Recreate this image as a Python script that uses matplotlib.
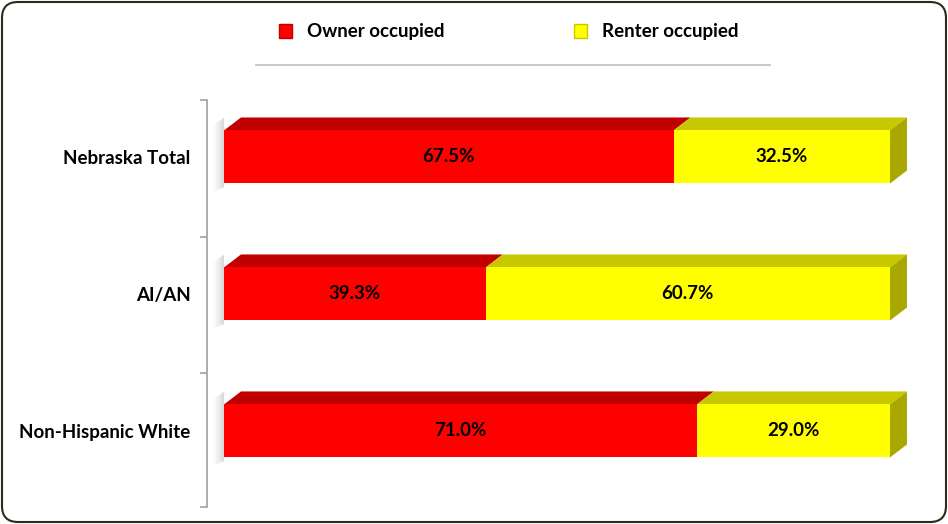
"""Housing tenure by race, Nebraska - stacked 3D-style bar chart."""
import matplotlib.pyplot as plt
from matplotlib.patches import Polygon, Patch, FancyBboxPatch
from matplotlib.lines import Line2D

categories = ["Nebraska Total", "AI/AN", "Non-Hispanic White"]
owner = [67.5, 39.3, 71.0]
renter = [32.5, 60.7, 29.0]
series_names = ["Owner occupied", "Renter occupied"]

front_cols = ["#FF0000", "#FFFF00"]
top_cols = ["#C00000", "#C8C800"]
side_cols = ["#A00000", "#A8A800"]

plt.rcParams["font.family"] = ["Lato", "DejaVu Sans"]
plt.rcParams["font.weight"] = "bold"

fig = plt.figure(figsize=(9.48, 5.24), dpi=100)
W, H = 948, 524
ax = fig.add_axes([224 / W, 1 - 507 / H, 666 / W, 407 / H])

# spine position first: set_position resets the ticks
for s in ["top", "right", "bottom"]:
    ax.spines[s].set_visible(False)
ax.spines["left"].set_position(("outward", 12.2))
ax.spines["left"].set_color("#A0A0A0")
ax.spines["left"].set_linewidth(1.2)
ax.patch.set_alpha(0)

bar_h = 0.387
dx, dy = 2.55, 0.095  # depth of the fake 3D faces in data units
ypos = list(range(len(categories)))

for i, y in enumerate(ypos):
    top = y - bar_h / 2
    bot = y + bar_h / 2
    # soft shadow on the left
    for k, a in enumerate([0.05, 0.04, 0.03, 0.02]):
        off = 0.4 + k * 0.4
        ax.add_patch(Polygon([(-off, top - dy + 0.02 + 0.01 * k), (0, top - dy), (0, bot + 0.03),
                              (-off, bot + 0.02 + 0.015 * k)],
                             closed=True, color="black", alpha=a, lw=0, zorder=1,
                             clip_on=False))
    left = 0
    for vals, fc, tc in zip([owner, renter], front_cols, top_cols):
        v = vals[i]
        ax.barh(y, v, left=left, height=bar_h, color=fc, zorder=3)
        ax.add_patch(Polygon([(left, top), (left + dx, top - dy),
                              (left + v + dx, top - dy), (left + v, top)],
                             closed=True, color=tc, lw=0, zorder=2, clip_on=False))
        ax.text(left + v / 2, y, f"{v:.1f}%", ha="center", va="center",
                fontsize=13.5, fontweight="bold", color="black", zorder=5)
        left += v
    ax.add_patch(Polygon([(left, top), (left + dx, top - dy),
                          (left + dx, bot - dy), (left, bot)],
                         closed=True, color=side_cols[1], lw=0, zorder=2, clip_on=False))

ax.set_xlim(0, 100)
ax.set_ylim(2 + 0.555, -0.416)
ax.set_xticks([])
ax.set_yticks(ypos)
ax.set_yticks([-0.416, 0.584, 1.577, 2.555], minor=True)
ax.tick_params(axis="y", which="major", length=0, pad=12)
ax.tick_params(axis="y", which="minor", length=5, color="#A0A0A0", width=1.2)
ax.set_yticklabels(categories, fontsize=13.5, fontweight="bold")

handles = [Patch(facecolor=front_cols[0], edgecolor=top_cols[0]),
           Patch(facecolor=front_cols[1], edgecolor=top_cols[1])]
fig.legend(handles, series_names, loc="center left", bbox_to_anchor=(262 / W, 1 - 32 / H),
           ncol=2, frameon=False, handlelength=0.7, handleheight=0.7,
           handletextpad=0.8, columnspacing=6.9,
           prop={"weight": "bold", "size": 13.5})

fig.add_artist(Line2D([256 / W, 770 / W], [1 - 65 / H, 1 - 65 / H],
                      color="#BFBFBF", lw=1.2))
fig.add_artist(FancyBboxPatch((0.02, 0.02), 9.44, 5.2,
                              boxstyle="round,pad=0,rounding_size=0.16",
                              transform=fig.dpi_scale_trans, fc="none",
                              ec="#2B2B1B", lw=1.5))

fig.savefig("out.png", dpi=100)
